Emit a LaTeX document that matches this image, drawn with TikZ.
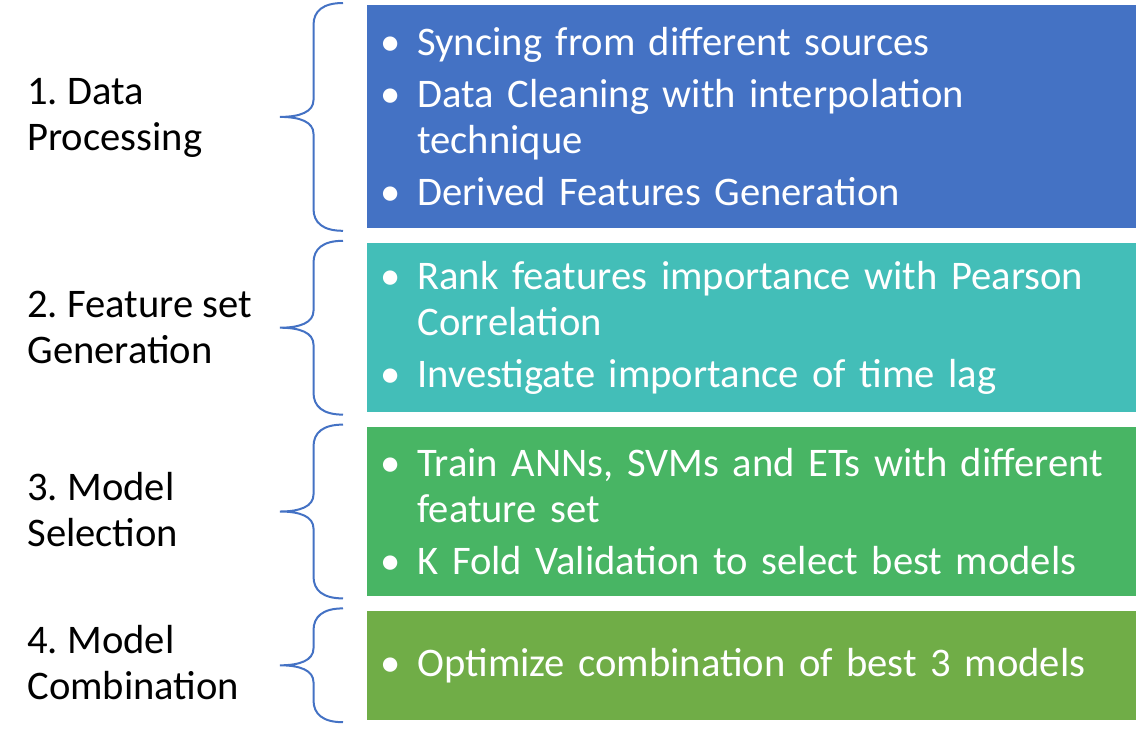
\documentclass[tikz,border=0pt]{standalone}
\usepackage{fontspec}
\setmainfont{Carlito}
\usetikzlibrary{positioning}
\definecolor{stepblue}{HTML}{4472C4}
\definecolor{stepteal}{HTML}{43BEB8}
\definecolor{stepgreen}{HTML}{48B564}
\definecolor{stepolive}{HTML}{70AD47}
\newcommand{\stagefont}{\fontsize{20.3}{23}\selectfont\frenchspacing\spaceskip=0.226em\relax}
\newcommand{\bul}[1]{\hangindent=19pt\hangafter=1\noindent
  \makebox[19pt][l]{\hspace{0.5pt}\textbullet}#1\par}
% curly brace left of a stage box
\newcommand{\stagebrace}[1]{%
  \draw[bracepen] ([shift={(-12pt,1pt)}]#1.north west)
    .. controls +(-10pt,0pt) and +(0pt,7pt) .. ([shift={(-26.75pt,-10pt)}]#1.north west)
    -- ([shift={(-26.75pt,8.5pt)}]#1.west)
    .. controls +(0pt,-6pt) and +(10pt,0pt) .. ([xshift=-43.5pt]#1.west)
    .. controls +(10pt,0pt) and +(0pt,6pt) .. ([shift={(-26.75pt,-8.5pt)}]#1.west)
    -- ([shift={(-26.75pt,10pt)}]#1.south west)
    .. controls +(0pt,-7pt) and +(-10pt,0pt) .. ([shift={(-12pt,-1pt)}]#1.south west);}

\begin{document}
\begin{tikzpicture}[x=0.5pt,y=-0.5pt,node distance=7pt,
  stagebox/.style={inner xsep=6pt,inner ysep=0pt,minimum width=384.5pt,
            text width=372.5pt,align=left,text=white,font=\stagefont,
            execute at begin node={\setlength{\parskip}{3pt}}},
  stagelabel/.style={anchor=west,align=left,inner sep=0pt,font=\stagefont},
  bracepen/.style={draw=stepblue,line width=1pt}]
  \useasboundingbox (0,0) rectangle (1138,734);
  \node[stagebox,fill=stepblue,minimum height=111.5pt,anchor=north west] (proc) at (367,5)
       {\bul{Syncing from different sources}
        \bul{Data Cleaning with interpolation\newline technique}
        \bul{Derived Features Generation}};
  \node[stagebox,fill=stepteal,minimum height=84.5pt,below=of proc] (feat)
       {\bul{Rank features importance with Pearson\newline Correlation}
        \bul{Investigate importance of time lag}};
  \node[stagebox,fill=stepgreen,minimum height=84.5pt,below=of feat] (sel)
       {\bul{Train ANNs, SVMs and ETs with different\newline feature set}
        \bul{K Fold Validation to select best models}};
  \node[stagebox,fill=stepolive,minimum height=54.5pt,below=of sel] (comb)
       {\bul{Optimize combination of best 3 models}};
  \stagebrace{proc} \stagebrace{feat} \stagebrace{sel} \stagebrace{comb}
  \node[stagelabel] (lproc) at (27,118) {1. Data\\Processing};
  \node[stagelabel] (lfeat) at (27,327) {2. Feature set\\Generation};
  \node[stagelabel] (lsel) at (27,510) {3. Model\\Selection};
  \node[stagelabel] (lcomb) at (27,663) {4. Model\\Combination};
\end{tikzpicture}
\end{document}
